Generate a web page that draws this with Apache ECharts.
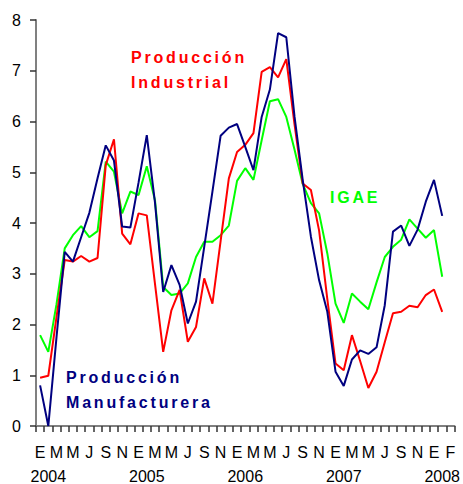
<!DOCTYPE html>
<html>
<head>
<meta charset="utf-8">
<script src="https://cdn.jsdelivr.net/npm/echarts@6/dist/echarts.min.js"></script>
<style>
  html, body { margin: 0; padding: 0; background: #fff; }
  #chart { width: 463px; height: 484px; }
  /* spaced-out bold captions like the original */
  #chart text[style*="bold"] { letter-spacing: 2.8px; }
</style>
</head>
<body>
<div id="chart"></div>
<script>
// month letters under the axis (51 slots, last one only carries the "F")
const monthLabels = [
  'E', '', 'M', '', 'M', '', 'J', '', 'S', '', 'N', '',
  'E', '', 'M', '', 'M', '', 'J', '', 'S', '', 'N', '',
  'E', '', 'M', '', 'M', '', 'J', '', 'S', '', 'N', '',
  'E', '', 'M', '', 'M', '', 'J', '', 'S', '', 'N', '',
  'E', '', 'F'
];
const yearLabels = [
  '', '2004', '', '', '', '', '', '', '', '', '', '',
  '', '2005', '', '', '', '', '', '', '', '', '', '',
  '', '2006', '', '', '', '', '', '', '', '', '', '',
  '', '2007', '', '', '', '', '', '', '', '', '', '',
  '', '2008', ''
];
const categories = monthLabels.map((m, i) => 'c' + i);

// Producción Manufacturera (ene 2004 - feb 2008)
const manufacturera = [
  0.80, 0.00, 1.75, 3.43, 3.24, 3.72, 4.20, 4.88, 5.53, 5.23, 3.93, 3.91,
  4.80, 5.73, 4.40, 2.64, 3.17, 2.78, 2.02, 2.45, 3.53, 4.62, 5.72, 5.88,
  5.95, 5.50, 5.04, 6.09, 6.63, 7.74, 7.66, 6.10, 4.85, 3.73, 2.87, 2.25,
  1.07, 0.79, 1.31, 1.49, 1.42, 1.55, 2.38, 3.83, 3.95, 3.55, 3.87, 4.42,
  4.85, 4.14
];
// Producción Industrial
const industrial = [
  0.95, 0.99, 2.15, 3.27, 3.24, 3.35, 3.24, 3.31, 5.14, 5.65, 3.79, 3.58,
  4.19, 4.15, 2.80, 1.46, 2.28, 2.68, 1.66, 1.95, 2.91, 2.41, 3.65, 4.88,
  5.40, 5.54, 5.77, 6.98, 7.07, 6.87, 7.23, 5.95, 4.78, 4.65, 3.85, 2.50,
  1.23, 1.10, 1.79, 1.28, 0.75, 1.07, 1.65, 2.22, 2.25, 2.37, 2.34, 2.58,
  2.69, 2.25
];
// IGAE
const igae = [
  1.79, 1.46, 2.40, 3.50, 3.76, 3.94, 3.72, 3.84, 5.21, 5.01, 4.19, 4.62,
  4.55, 5.12, 4.45, 2.74, 2.58, 2.61, 2.81, 3.33, 3.63, 3.63, 3.76, 3.95,
  4.83, 5.08, 4.85, 5.63, 6.40, 6.44, 6.09, 5.45, 4.77, 4.39, 4.19, 3.40,
  2.41, 2.03, 2.61, 2.45, 2.30, 2.83, 3.33, 3.53, 3.67, 4.07, 3.89, 3.71,
  3.86, 2.94
];

const font = '"Liberation Sans", Arial, sans-serif';
const axisGray = '#808080';
const tickGray = '#333';

const chart = echarts.init(document.getElementById('chart'), null, { renderer: 'svg' });

const line = (name, data, color) => ({
  name: name,
  type: 'line',
  data: data,
  xAxisIndex: 0,
  symbol: 'none',
  lineStyle: { color: color, width: 2 },
  itemStyle: { color: color }
});

chart.setOption({
  animation: false,
  grid: { left: 36, right: 8, top: 20, bottom: 58 },
  xAxis: [
    {
      type: 'category',
      data: categories,
      boundaryGap: true,
      position: 'bottom',
      axisLine: { show: true, lineStyle: { color: axisGray, width: 2 } },
      axisTick: { show: true, inside: false, interval: 0, length: 6, lineStyle: { color: tickGray, width: 1.5 } },
      axisLabel: {
        interval: 0,
        margin: 18,
        color: '#000',
        fontSize: 16,
        fontFamily: font,
        formatter: (v, i) => monthLabels[i]
      },
      splitLine: { show: false }
    },
    {
      type: 'category',
      data: categories,
      boundaryGap: true,
      position: 'bottom',
      axisLine: { show: false },
      axisTick: { show: false },
      axisLabel: {
        interval: 0,
        margin: 42,
        color: '#000',
        fontSize: 16,
        fontFamily: font,
        formatter: (v, i) => yearLabels[i]
      },
      splitLine: { show: false }
    }
  ],
  yAxis: {
    type: 'value',
    min: 0,
    max: 8,
    interval: 1,
    axisLine: { show: true, lineStyle: { color: axisGray, width: 2 } },
    axisTick: { show: true, inside: false, length: 6, lineStyle: { color: tickGray, width: 1.5 } },
    axisLabel: { margin: 15, color: '#000', fontSize: 16, fontFamily: font },
    splitLine: { show: false }
  },
  series: [
    line('IGAE', igae, '#00ff00'),
    line('Producción Industrial', industrial, '#ff0000'),
    line('Producción Manufacturera', manufacturera, '#000080')
  ],
  graphic: [
    {
      type: 'text', x: 131, y: 44.5,
      style: { text: 'Producción\nIndustrial', fill: '#ff0000', fontSize: 16, fontWeight: 'bold', fontFamily: font, lineHeight: 25, verticalAlign: 'top' }
    },
    {
      type: 'text', x: 330, y: 184.5,
      style: { text: 'IGAE', fill: '#00ff00', fontSize: 16, fontWeight: 'bold', fontFamily: font, lineHeight: 25, verticalAlign: 'top' }
    },
    {
      type: 'text', x: 66, y: 365,
      style: { text: 'Producción\nManufacturera', fill: '#000080', fontSize: 16, fontWeight: 'bold', fontFamily: font, lineHeight: 25, verticalAlign: 'top' }
    }
  ]
});
</script>
</body>
</html>
